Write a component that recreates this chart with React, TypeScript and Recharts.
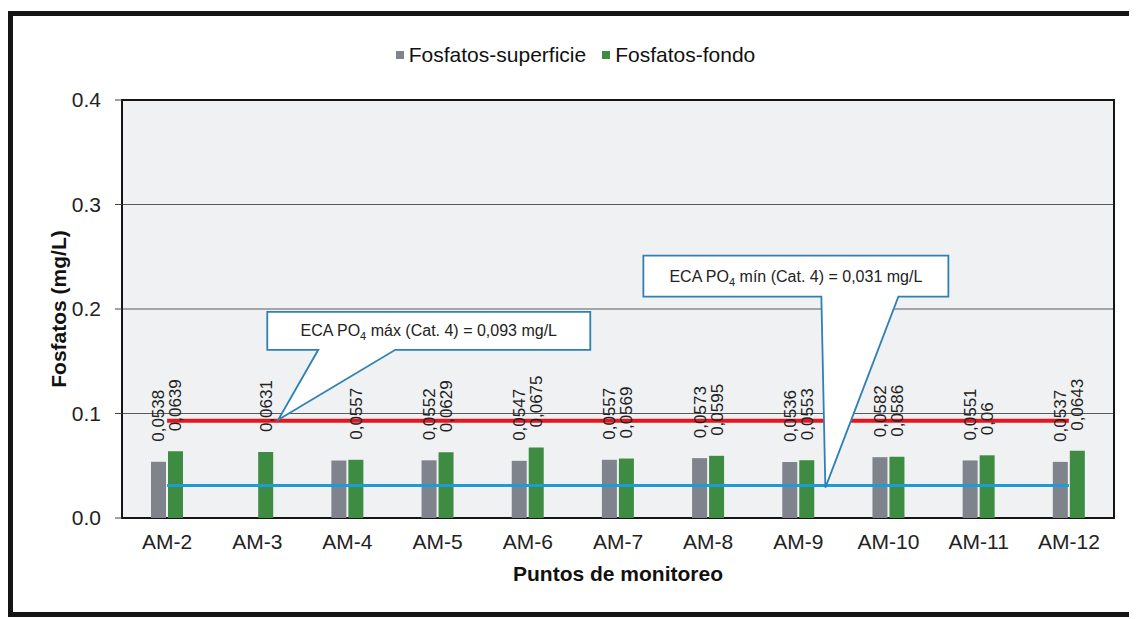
import React from "react";
import {
  Bar,
  CartesianGrid,
  ComposedChart,
  LabelList,
  Legend,
  Line,
  ReferenceArea,
  ReferenceDot,
  XAxis,
  YAxis,
} from "recharts";

const puntos = ["AM-2", "AM-3", "AM-4", "AM-5", "AM-6", "AM-7", "AM-8", "AM-9", "AM-10", "AM-11", "AM-12"];
const superficie = [0.0538, null, 0.055, 0.0552, 0.0547, 0.0557, 0.0573, 0.0536, 0.0582, 0.0551, 0.0537];
const fondo = [0.0639, 0.0631, 0.0557, 0.0629, 0.0675, 0.0569, 0.0595, 0.0553, 0.0586, 0.06, 0.0643];
const ecaMax = 0.093;
const ecaMin = 0.031;
const yTicks = [0, 0.1, 0.2, 0.3, 0.4];
// the scanned chart shows no value over the grey AM-4 bar
const superficieSinEtiqueta = ["AM-4"];
const ordenLeyenda = ["superficie", "fondo"];

const data = puntos.map((punto, i) => ({
  punto,
  superficie: superficie[i],
  fondo: fondo[i],
  etiquetaSup: superficieSinEtiqueta.includes(punto) ? null : superficie[i],
  ecaMax,
  ecaMin,
}));

const FONT = "'Liberation Sans', Arial, sans-serif";
const GRIS = "#7f838b";
const VERDE = "#3d8c42";
const CALLOUT = "#2f80b4";

const coma = (v: number) => String(v).replace(".", ",");

const RotatedLabel = (props: any) => {
  const { x, y, width, value } = props;
  if (value == null) return null;
  const tx = Number(x) + Number(width) / 2 + 6;
  const ty = Number(y) - 20;
  return (
    <text
      x={tx}
      y={ty}
      transform={`rotate(-90, ${tx}, ${ty})`}
      fontSize={17}
      fill="#222"
      textAnchor="start"
    >
      {coma(value)}
    </text>
  );
};

interface CalloutGeo {
  apex: [number, number];
  box: [number, number, number, number]; // left, top, right, bottom (relative to anchor)
  base: [number, number];
}

const calloutShape = (geo: CalloutGeo, pre: string, post: string) => (props: any) => {
  const { cx, cy } = props;
  const [l, t, r, b] = geo.box;
  const L = cx + l;
  const T = cy + t;
  const R = cx + r;
  const B = cy + b;
  const ax = cx + geo.apex[0];
  const ay = cy + geo.apex[1];
  const d = `M${L},${T} H${R} V${B} H${cx + geo.base[1]} L${ax},${ay} L${cx + geo.base[0]},${B} H${L} Z`;
  return (
    <g>
      <path d={d} fill="#fff" stroke={CALLOUT} strokeWidth={1.8} strokeLinejoin="miter" />
      <text x={(L + R) / 2} y={(T + B) / 2} dy="0.35em" textAnchor="middle" fontSize={16} fill="#222">
        {pre}
        <tspan fontSize={11} dy={4}>4</tspan>
        <tspan dy={-4}>{post}</tspan>
      </text>
    </g>
  );
};

const calloutMax: CalloutGeo = { apex: [21, -1], box: [10, -109, 333, -71], base: [61, 138] };
const calloutMin: CalloutGeo = { apex: [27, 2], box: [-155, -230, 150, -189], base: [23, 100] };

const renderLegend = (props: any) => {
  const items = (props.payload || [])
    .filter((e: any) => ordenLeyenda.includes(e.dataKey))
    .sort((a: any, b: any) => ordenLeyenda.indexOf(a.dataKey) - ordenLeyenda.indexOf(b.dataKey));
  return (
    <div style={{ display: "flex", justifyContent: "center", gap: 16, fontSize: 21, color: "#111", marginLeft: 8, lineHeight: "24px" }}>
      {items.map((e: any) => (
        <span key={e.value} style={{ display: "flex", alignItems: "center" }}>
          <span style={{ width: 8, height: 8, background: e.color, marginRight: 5, display: "inline-block" }} />
          {e.value}
        </span>
      ))}
    </div>
  );
};

const YTitle = (props: any) => {
  const vb = props.viewBox || { x: 0, y: 84, width: 109, height: 418 };
  const x = vb.x + 45;
  const y = vb.y + vb.height / 2;
  return (
    <text
      x={x}
      y={y}
      transform={`rotate(-90, ${x}, ${y})`}
      textAnchor="middle"
      dominantBaseline="central"
      fontSize={21}
      fontWeight="bold"
      fill="#111"
    >
      Fosfatos (mg/L)
    </text>
  );
};

export default function App() {
  return (
    <div
      style={{
        marginTop: 3,
        width: 1127,
        height: 606,
        border: "5px solid #151515",
        boxSizing: "border-box",
        background: "#fff",
        fontFamily: FONT,
        position: "relative",
      }}
    >
      <ComposedChart
        width={1117}
        height={596}
        data={data}
        margin={{ top: 84, right: 16, bottom: 54, left: 0 }}
        barSize={15}
        barGap={2}
      >
        <CartesianGrid vertical={false} stroke="#5a5a5a" strokeWidth={1.2} fill="#eff1f3" />
        <ReferenceArea y1={0} y2={0.4} fill="none" stroke="#151515" strokeWidth={2} ifOverflow="visible" />
        <XAxis
          dataKey="punto"
          interval={0}
          axisLine={false}
          tickLine={false}
          tickSize={6}
          tickMargin={10}
          height={40}
          tick={{ fontSize: 21, fill: "#222" }}
          label={{ value: "Puntos de monitoreo", position: "bottom", offset: 8, fontSize: 21, fontWeight: "bold", fill: "#111" }}
        />
        <YAxis
          type="number"
          domain={[0, 0.4]}
          ticks={yTicks}
          tickFormatter={(v: number) => v.toFixed(1)}
          width={109}
          axisLine={false}
          tickSize={7}
          tickMargin={14}
          tickLine={{ stroke: "#444" }}
          tick={{ fontSize: 21, fill: "#222" }}
          label={{ content: YTitle }}
        />
        <Legend
          verticalAlign="middle"
          layout="horizontal"
          align="center"
          content={renderLegend}
          wrapperStyle={{ top: 27, left: 0, width: 1117 }}
        />
        <Bar dataKey="superficie" name="Fosfatos-superficie" fill={GRIS} isAnimationActive={false}>
          <LabelList dataKey="etiquetaSup" content={RotatedLabel} />
        </Bar>
        <Bar dataKey="fondo" name="Fosfatos-fondo" fill={VERDE} isAnimationActive={false}>
          <LabelList dataKey="fondo" content={RotatedLabel} />
        </Bar>
        <Line
          dataKey="ecaMax"
          stroke="#e3171f"
          strokeWidth={4}
          dot={false}
          activeDot={false}
          legendType="none"
          isAnimationActive={false}
        />
        <Line
          dataKey="ecaMin"
          stroke="#1d9bd7"
          strokeWidth={3}
          dot={false}
          activeDot={false}
          legendType="none"
          isAnimationActive={false}
        />
        <ReferenceDot
          x="AM-3"
          y={ecaMax}
          ifOverflow="visible"
          shape={calloutShape(calloutMax, "ECA PO", " máx (Cat. 4) = 0,093 mg/L")}
        />
        <ReferenceDot
          x="AM-9"
          y={ecaMin}
          ifOverflow="visible"
          shape={calloutShape(calloutMin, "ECA PO", " mín (Cat. 4) = 0,031 mg/L")}
        />
      </ComposedChart>
    </div>
  );
}
